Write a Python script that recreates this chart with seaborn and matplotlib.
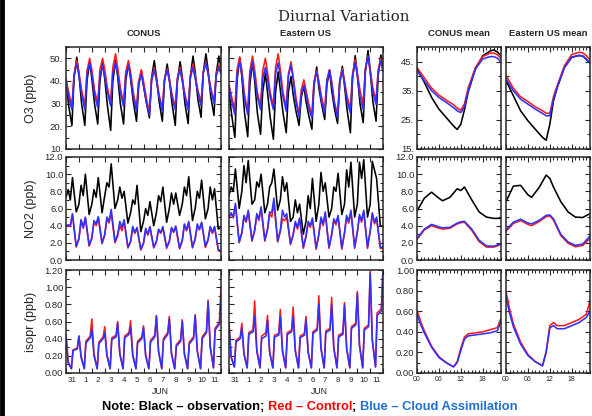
"""Diurnal Variation: O3, NO2 und Isopren - Zeitreihen und mittlerer Tagesgang."""

import matplotlib
matplotlib.use('Agg')
import matplotlib.pyplot as plt
import seaborn as sns
from matplotlib.lines import Line2D
from matplotlib.ticker import (FixedFormatter, FixedLocator, FuncFormatter,
                               MultipleLocator, NullFormatter)

# Tageslabels (31. Mai bis 11. Juni)
DAY_LABELS = ['31', '1', '2', '3', '4', '5', '6', '7', '8', '9', '10', '11']
MEAN_LABELS = ['00', '06', '12', '18']

# Stuetzstunden je Tag (UTC)
HOURS_O3 = [0, 5, 11, 15, 20]
HOURS_NO2 = [0, 4, 8, 12, 19]
HOURS_ISO = [0, 4, 10, 13, 21]

# ---------------- O3 Zeitreihen ----------------
O3_CONUS_OBS = [
    [40, 29, 20.4, 41.5, 50.5], [43, 30, 20.4, 40, 48.5], [41, 30, 21, 40, 48],
    [41, 29, 18.2, 39.8, 49], [42, 30, 21, 40, 48], [41, 31, 22.2, 37.8, 44.5],
    [38, 31, 23.7, 41.4, 49], [42, 31, 22.2, 40, 47.5], [41, 30, 20.4, 40, 48.5],
    [42, 30, 21.2, 42, 51], [44, 32, 24, 43.6, 52], [45, 33, 24.8, 43, 51]]
O3_CONUS_CTL = [
    [41, 35, 29, 43, 49], [44, 36, 29, 44.5, 50], [45, 36, 30, 45, 50],
    [45, 37, 30.5, 46, 52], [46, 37, 30, 44, 49], [44, 35, 28, 40, 45],
    [40, 33, 26, 41, 46], [41, 34, 28, 41, 45.5], [41, 34, 28.5, 41.5, 46],
    [41, 34, 28.5, 42, 47.5], [42.5, 36, 30.5, 44, 48.5], [43.5, 37, 31, 43, 47]]
O3_CONUS_CDA = [
    [40, 33, 27.4, 42.5, 47.5], [42.5, 34, 27.4, 42.9, 48], [43, 34, 28.3, 42.3, 47],
    [42, 35, 29, 43.3, 48], [43, 35, 28.7, 42.4, 47], [42, 33, 26.8, 39, 43],
    [38, 31, 25, 40, 45], [40, 33, 26.5, 40.4, 45], [40, 33, 27.2, 40.6, 45],
    [40, 33, 27.2, 41.3, 46], [41, 35, 29, 43.3, 48], [43, 36, 30, 42, 46]]
O3_CONUS_END = [46, 44, 43]

O3_EAST_OBS = [
    [36, 25, 15.1, 40, 50.5], [42, 26, 15.4, 38.5, 48.5], [40, 26, 16.5, 35, 43.5],
    [35, 24, 14.3, 35, 44], [36, 26, 17.2, 35, 42], [34, 27, 20.4, 32.5, 38],
    [31, 25, 18.7, 38, 46.2], [37, 30, 23, 38, 44.8], [36, 28, 21.3, 39, 46.5],
    [38, 27, 17.2, 41, 51.2], [43, 30, 21.6, 44, 53.5], [45, 31, 22.3, 42.5, 51.5]]
O3_EAST_CTL = [
    [38.5, 33, 27, 45, 50.5], [45, 34, 26.5, 44.5, 51], [45, 35, 29, 44.5, 50],
    [44, 35, 29, 46, 52], [45, 35, 28.5, 43, 48.5], [42, 33, 25, 36, 40.5],
    [36, 30, 25, 40, 44.5], [40, 33, 27, 40.5, 45], [40, 31, 25, 40.5, 45.5],
    [40, 33, 28, 43, 49.5], [43.5, 36, 30, 45.5, 51], [45, 37, 31.5, 45, 50]]
O3_EAST_CDA = [
    [37.5, 31, 25.2, 43, 48.5], [43, 32, 25.2, 42.5, 48.5], [42, 33, 27.4, 41, 46],
    [41, 33, 27.4, 43, 48], [42, 33, 26.7, 42, 47], [41, 31, 24.1, 34, 38],
    [34, 28, 23.8, 39, 44], [39, 31, 25.5, 40, 44.8], [39, 30, 23.8, 39, 44.8],
    [39, 31, 25.9, 42, 48.2], [42, 33, 27.4, 45, 51], [44, 35, 29.6, 44, 49]]
O3_EAST_END = [46, 45, 44]

# ---------------- NO2 Zeitreihen ----------------
NO2_CONUS_OBS = [
    [7.3, 8.2, 7.0, 9.6, 5.6], [6.5, 8.7, 7.5, 10.0, 5.3], [6.5, 8.2, 7.3, 9.6, 5.5],
    [7.5, 9.0, 8.5, 11.2, 6.0], [7.0, 8.5, 7.2, 8.0, 4.3], [5.5, 7.0, 6.5, 8.7, 3.3],
    [4.5, 6.0, 5.2, 6.8, 4.0], [5.5, 7.5, 6.8, 8.5, 4.4], [6.0, 7.8, 6.5, 7.8, 5.2],
    [6.5, 8.5, 7.5, 9.7, 4.6], [6.0, 8.0, 7.2, 9.3, 4.8], [6.0, 8.5, 7.0, 8.3, 3.6]]
NO2_CONUS_CTL = [
    [4.0, 4.0, 3.9, 5.3, 1.5], [2.4, 4.6, 3.7, 4.9, 1.6], [2.5, 4.5, 4.0, 4.9, 1.9],
    [2.9, 4.8, 4.3, 5.5, 2.0], [2.8, 4.0, 3.4, 4.5, 1.4], [2.1, 3.7, 3.1, 3.7, 1.15],
    [1.9, 3.5, 2.9, 3.8, 1.4], [2.1, 3.5, 3.1, 3.7, 1.35], [2.1, 3.7, 3.2, 3.8, 1.3],
    [2.2, 4.1, 3.4, 4.3, 1.4], [2.4, 4.0, 3.5, 4.3, 1.45], [2.3, 3.8, 3.1, 3.8, 1.1]]
NO2_CONUS_CDA = [
    [4.0, 4.1, 4.0, 5.4, 1.6], [2.5, 4.7, 3.8, 5.0, 1.75], [2.6, 4.6, 4.2, 5.05, 2.0],
    [3.0, 5.0, 4.5, 5.9, 2.15], [3.0, 4.5, 3.8, 4.7, 1.5], [2.2, 3.9, 3.2, 3.8, 1.25],
    [2.0, 3.7, 3.0, 3.9, 1.5], [2.2, 3.6, 3.2, 3.9, 1.5], [2.2, 3.8, 3.3, 3.97, 1.4],
    [2.3, 4.2, 3.5, 4.5, 1.5], [2.5, 4.2, 3.6, 4.4, 1.6], [2.4, 3.9, 3.2, 3.9, 1.2]]
NO2_CONUS_END = [3.8, 1.0, 1.1]

NO2_EAST_OBS = [
    [7.5, 8.5, 8.0, 10.6, 6.0], [8.0, 11.0, 9.0, 11.6, 6.5], [7.0, 9.1, 8.5, 10.0, 5.5],
    [6.5, 8.5, 9.0, 10.6, 5.8], [7.0, 9.7, 8.0, 9.0, 4.5], [5.0, 7.0, 5.5, 6.5, 3.0],
    [4.5, 7.5, 6.0, 9.5, 4.5], [6.5, 10.2, 8.0, 9.0, 5.0], [6.0, 8.5, 8.0, 10.1, 5.3],
    [6.5, 10.5, 8.5, 11.4, 5.0], [6.5, 11.4, 9.5, 11.7, 5.0], [6.5, 11.5, 10.5, 9.5, 4.0]]
NO2_EAST_CTL = [
    [4.9, 5.4, 4.9, 6.4, 2.0], [3.1, 5.0, 4.4, 5.6, 2.2], [3.4, 5.2, 4.6, 6.0, 2.2],
    [3.5, 5.4, 5.0, 6.6, 2.1], [3.3, 4.8, 4.6, 5.0, 1.8], [2.9, 4.3, 3.6, 4.7, 1.35],
    [2.7, 4.3, 3.8, 4.7, 1.25], [2.9, 4.8, 4.0, 5.4, 1.35], [2.9, 4.6, 4.1, 5.0, 1.25],
    [3.1, 5.0, 4.3, 5.6, 1.35], [3.2, 5.1, 4.4, 5.6, 1.35], [3.3, 5.3, 4.2, 4.8, 1.35]]
NO2_EAST_CDA = [
    [5.0, 5.5, 5.0, 6.6, 2.1], [3.2, 5.2, 4.5, 5.8, 2.3], [3.5, 5.4, 4.8, 6.2, 2.3],
    [3.6, 5.6, 5.5, 7.2, 2.2], [3.5, 5.8, 5.0, 5.4, 1.9], [3.0, 4.5, 3.8, 4.9, 1.5],
    [2.8, 4.5, 4.0, 4.9, 1.4], [3.0, 5.0, 4.2, 5.6, 1.5], [3.0, 4.8, 4.3, 5.2, 1.4],
    [3.2, 5.2, 4.5, 5.8, 1.5], [3.3, 5.3, 4.6, 5.8, 1.5], [3.4, 5.5, 4.4, 5.0, 1.5]]
NO2_EAST_END = [3.9, 1.4, 1.5]

# ---------------- Isopren Zeitreihen (keine Beobachtung) ----------------
ISO_CONUS_CTL = [
    [0.45, 0.13, 0.05, 0.27, 0.29], [0.43, 0.20, 0.05, 0.37, 0.43],
    [0.63, 0.23, 0.05, 0.36, 0.42], [0.54, 0.22, 0.05, 0.41, 0.44],
    [0.60, 0.23, 0.05, 0.43, 0.47], [0.61, 0.22, 0.05, 0.37, 0.42],
    [0.55, 0.21, 0.05, 0.38, 0.44], [0.67, 0.25, 0.05, 0.40, 0.47],
    [0.66, 0.23, 0.05, 0.33, 0.39], [0.62, 0.23, 0.05, 0.36, 0.42],
    [0.68, 0.26, 0.05, 0.42, 0.49], [0.85, 0.31, 0.06, 0.52, 0.59]]
ISO_CONUS_CDA = [
    [0.43, 0.12, 0.05, 0.26, 0.28], [0.43, 0.18, 0.05, 0.35, 0.41],
    [0.51, 0.20, 0.05, 0.34, 0.40], [0.47, 0.20, 0.05, 0.39, 0.42],
    [0.58, 0.22, 0.05, 0.41, 0.45], [0.53, 0.20, 0.05, 0.35, 0.40],
    [0.53, 0.20, 0.05, 0.36, 0.42], [0.66, 0.25, 0.05, 0.38, 0.45],
    [0.63, 0.22, 0.05, 0.31, 0.37], [0.60, 0.22, 0.05, 0.34, 0.40],
    [0.67, 0.25, 0.05, 0.40, 0.47], [0.83, 0.30, 0.06, 0.50, 0.57]]
ISO_CONUS_END = [1.01, 0.86]

ISO_EAST_CTL = [
    [0.59, 0.19, 0.07, 0.38, 0.42], [0.58, 0.23, 0.06, 0.47, 0.50],
    [0.84, 0.28, 0.06, 0.43, 0.47], [0.67, 0.25, 0.06, 0.44, 0.46],
    [0.74, 0.27, 0.06, 0.47, 0.50], [0.77, 0.27, 0.06, 0.43, 0.46],
    [0.66, 0.25, 0.06, 0.48, 0.52], [0.90, 0.30, 0.06, 0.49, 0.52],
    [0.88, 0.30, 0.06, 0.44, 0.47], [0.82, 0.29, 0.06, 0.54, 0.58],
    [0.95, 0.33, 0.06, 0.52, 0.56], [1.18, 0.39, 0.07, 0.70, 0.75]]
ISO_EAST_CDA = [
    [0.57, 0.18, 0.07, 0.36, 0.40], [0.53, 0.22, 0.06, 0.45, 0.48],
    [0.66, 0.25, 0.06, 0.40, 0.43], [0.61, 0.24, 0.06, 0.42, 0.44],
    [0.66, 0.25, 0.06, 0.45, 0.48], [0.66, 0.25, 0.06, 0.41, 0.44],
    [0.62, 0.24, 0.06, 0.46, 0.50], [0.80, 0.28, 0.06, 0.47, 0.50],
    [0.80, 0.28, 0.06, 0.42, 0.45], [0.79, 0.28, 0.06, 0.52, 0.56],
    [0.93, 0.32, 0.06, 0.50, 0.54], [1.16, 0.38, 0.07, 0.67, 0.72]]
ISO_EAST_END = [1.22, 1.20]

# ---------------- Mittlerer Tagesgang ----------------
MEAN_HOURS_O3 = [0, 2, 4, 6, 8, 10, 11, 12, 13, 14, 16, 18, 20, 21, 22, 23]
O3M_CONUS_OBS = [42.5, 37.9, 32.7, 28.7, 25.8, 22.9, 21.7, 23.5, 28.5, 34.5, 42.5, 47.0, 48.6, 49.0, 48.3, 47.0]
O3M_CONUS_CTL = [43.0, 39.4, 35.9, 33.5, 31.8, 30.2, 29.0, 28.3, 30.5, 35.9, 43.0, 46.7, 47.9, 47.9, 47.4, 46.0]
O3M_CONUS_CDA = [41.9, 38.4, 35.0, 32.7, 31.0, 29.2, 28.1, 27.5, 29.5, 35.0, 42.5, 45.9, 46.7, 46.7, 46.2, 44.8]
O3M_EAST_OBS = [38.5, 33.3, 28.1, 24.7, 21.8, 19.0, 18.0, 23.5, 31.5, 36.0, 43.0, 46.5, 47.1, 46.9, 45.8, 44.5]
O3M_EAST_CTL = [40.2, 35.9, 32.9, 31.3, 29.5, 28.1, 27.3, 27.2, 33.0, 36.7, 43.6, 47.4, 48.2, 48.0, 47.0, 45.6]
O3M_EAST_CDA = [39.0, 35.0, 32.1, 30.4, 28.7, 27.2, 26.4, 26.4, 32.0, 36.1, 43.0, 46.5, 47.1, 46.9, 45.7, 44.4]

MEAN_HOURS_NO2 = [0, 2, 4, 6, 7, 9, 11, 12, 13, 15, 17, 19, 21, 23]
NO2M_CONUS_OBS = [5.7, 7.2, 7.9, 7.2, 6.9, 7.3, 8.3, 8.1, 8.5, 7.0, 5.6, 5.0, 4.85, 4.85]
NO2M_CONUS_CTL = [2.4, 3.5, 4.0, 3.7, 3.6, 3.7, 4.2, 4.35, 4.4, 3.45, 2.15, 1.5, 1.5, 1.8]
NO2M_CONUS_CDA = [2.5, 3.6, 4.15, 3.85, 3.75, 3.8, 4.3, 4.45, 4.5, 3.6, 2.3, 1.65, 1.6, 1.9]
NO2M_EAST_OBS = [6.8, 8.6, 8.7, 7.6, 7.3, 8.4, 9.9, 9.5, 8.5, 6.8, 5.6, 5.0, 4.95, 5.4]
NO2M_EAST_CTL = [3.35, 4.25, 4.6, 4.15, 4.0, 4.45, 5.05, 5.15, 4.65, 2.85, 1.95, 1.55, 1.7, 2.5]
NO2M_EAST_CDA = [3.5, 4.4, 4.75, 4.3, 4.2, 4.6, 5.2, 5.25, 4.8, 3.0, 2.1, 1.7, 1.85, 2.8]

MEAN_HOURS_ISO = [0, 1, 2, 4, 6, 8, 10, 11, 12, 13, 14, 16, 18, 20, 22, 23]
ISOM_CONUS_CTL = [0.61, 0.50, 0.41, 0.26, 0.16, 0.10, 0.06, 0.11, 0.24, 0.35, 0.38, 0.39, 0.40, 0.42, 0.44, 0.53]
ISOM_CONUS_CDA = [0.57, 0.47, 0.39, 0.25, 0.15, 0.10, 0.06, 0.10, 0.22, 0.33, 0.36, 0.37, 0.38, 0.39, 0.41, 0.50]
ISOM_EAST_CTL = [0.79, 0.62, 0.48, 0.30, 0.18, 0.11, 0.07, 0.21, 0.46, 0.49, 0.46, 0.46, 0.49, 0.52, 0.57, 0.70]
ISOM_EAST_CDA = [0.74, 0.58, 0.45, 0.28, 0.17, 0.11, 0.07, 0.20, 0.44, 0.46, 0.43, 0.43, 0.46, 0.49, 0.54, 0.60]

C_OBS = 'black'
C_CTL = '#ff1a1a'
C_CDA = '#3030ff'
LW = 1.15


def build_series(days, hours, end):
    """Setzt Tageswerte zu einer durchgehenden Zeitachse (Tage) zusammen."""
    x = [d + h / 24 for d in range(len(days)) for h in hours]
    y = [v for row in days for v in row]
    return x + [len(days)], y + [end]


def draw(ax, x, y, color):
    sns.lineplot(x=x, y=y, color=color, lw=LW, ax=ax, estimator=None, legend=False)


def style_common(ax, major_y, minor_y, fmt, show_y):
    ax.set_xlabel('')
    ax.set_ylabel('')
    ax.yaxis.set_major_locator(FixedLocator(major_y))
    ax.yaxis.set_minor_locator(MultipleLocator(minor_y))
    ax.yaxis.set_major_formatter(FuncFormatter(fmt) if show_y else NullFormatter())
    ax.tick_params(axis='both', which='both', direction='in', top=True, right=True,
                   width=0.8, labelsize=6.8, pad=2)
    ax.tick_params(axis='both', which='major', length=3.5)
    ax.tick_params(axis='y', which='minor', length=2)
    for s in ax.spines.values():
        s.set_linewidth(1.1)


def style_ts(ax, ylim, major_y, minor_y, fmt, show_y, show_x):
    ax.set_xlim(0, 12)
    ax.set_ylim(*ylim)
    style_common(ax, major_y, minor_y, fmt, show_y)
    ax.xaxis.set_major_locator(MultipleLocator(1))
    ax.xaxis.set_major_formatter(NullFormatter())
    ax.xaxis.set_minor_locator(FixedLocator([d + 0.5 for d in range(12)]))
    ax.xaxis.set_minor_formatter(FixedFormatter(DAY_LABELS) if show_x else NullFormatter())
    ax.tick_params(axis='x', which='minor', length=0, labelsize=5.8, pad=3)


def style_mean(ax, ylim, major_y, minor_y, fmt, show_y, show_x):
    ax.set_xlim(0, 23)
    ax.set_ylim(*ylim)
    style_common(ax, major_y, minor_y, fmt, show_y)
    ax.xaxis.set_major_locator(FixedLocator([0, 6, 12, 18]))
    ax.xaxis.set_minor_locator(MultipleLocator(1))
    ax.xaxis.set_major_formatter(FixedFormatter(MEAN_LABELS) if show_x else NullFormatter())
    ax.tick_params(axis='x', which='minor', length=2)
    ax.tick_params(axis='x', which='major', labelsize=5, pad=2)


def main():
    sns.set_style('ticks')
    plt.rcParams['font.family'] = ['Liberation Sans', 'DejaVu Sans']

    fig = plt.figure(figsize=(5.92, 4.16), dpi=100)

    cols = [(66, 155), (229, 154), (417, 84), (506, 84)]
    rows = [(47, 102), (157, 103), (270, 103)]
    W, H = 592.0, 416.0
    axes = [[fig.add_axes([l / W, 1 - (t + h) / H, w / W, h / H]) for (l, w) in cols]
            for (t, h) in rows]

    fmt_o3 = lambda v, p: f'{v:.0f}.'
    fmt_no2 = lambda v, p: f'{v:.1f}'
    fmt_iso = lambda v, p: f'{v:.2f}'

    # Zeitreihen O3 und NO2 (Beobachtung, Kontrolle, Wolkenassimilation)
    ts_o3 = [(O3_CONUS_OBS, O3_CONUS_CTL, O3_CONUS_CDA, O3_CONUS_END),
             (O3_EAST_OBS, O3_EAST_CTL, O3_EAST_CDA, O3_EAST_END)]
    ts_no2 = [(NO2_CONUS_OBS, NO2_CONUS_CTL, NO2_CONUS_CDA, NO2_CONUS_END),
              (NO2_EAST_OBS, NO2_EAST_CTL, NO2_EAST_CDA, NO2_EAST_END)]
    for row, data, hours in [(0, ts_o3, HOURS_O3), (1, ts_no2, HOURS_NO2)]:
        for c, (obs, ctl, cda, end) in enumerate(data):
            ax = axes[row][c]
            for series, e, col in [(obs, end[0], C_OBS), (ctl, end[1], C_CTL), (cda, end[2], C_CDA)]:
                x, y = build_series(series, hours, e)
                draw(ax, x, y, col)

    ts_iso = [(ISO_CONUS_CTL, ISO_CONUS_CDA, ISO_CONUS_END),
              (ISO_EAST_CTL, ISO_EAST_CDA, ISO_EAST_END)]
    for c, (ctl, cda, end) in enumerate(ts_iso):
        ax = axes[2][c]
        for series, e, col in [(ctl, end[0], C_CTL), (cda, end[1], C_CDA)]:
            x, y = build_series(series, HOURS_ISO, e)
            draw(ax, x, y, col)

    # Mittlere Tagesgaenge
    means = [
        (0, MEAN_HOURS_O3, [(O3M_CONUS_OBS, O3M_CONUS_CTL, O3M_CONUS_CDA),
                            (O3M_EAST_OBS, O3M_EAST_CTL, O3M_EAST_CDA)]),
        (1, MEAN_HOURS_NO2, [(NO2M_CONUS_OBS, NO2M_CONUS_CTL, NO2M_CONUS_CDA),
                             (NO2M_EAST_OBS, NO2M_EAST_CTL, NO2M_EAST_CDA)]),
        (2, MEAN_HOURS_ISO, [(None, ISOM_CONUS_CTL, ISOM_CONUS_CDA),
                             (None, ISOM_EAST_CTL, ISOM_EAST_CDA)]),
    ]
    for row, hours, data in means:
        for c, trio in enumerate(data):
            ax = axes[row][2 + c]
            for vals, col in zip(trio, [C_OBS, C_CTL, C_CDA]):
                if vals is not None:
                    draw(ax, hours, vals, col)

    for c in range(2):
        first = c == 0
        style_ts(axes[0][c], (10, 55), [10, 20, 30, 40, 50], 5, fmt_o3, first, False)
        style_ts(axes[1][c], (0, 12), [0, 2, 4, 6, 8, 10, 12], 1, fmt_no2, first, False)
        style_ts(axes[2][c], (0, 1.2), [0, 0.2, 0.4, 0.6, 0.8, 1.0, 1.2], 0.1, fmt_iso, first, True)
        style_mean(axes[0][2 + c], (15, 50), [15, 25, 35, 45], 5, fmt_o3, first, False)
        style_mean(axes[1][2 + c], (0, 12), [0, 2, 4, 6, 8, 10, 12], 1, fmt_no2, first, False)
        style_mean(axes[2][2 + c], (0, 1.0), [0, 0.2, 0.4, 0.6, 0.8, 1.0], 0.1, fmt_iso, first, True)

    # Texte
    fig.text(344 / W, 1 - 17 / H, 'Diurnal Variation', ha='center', va='center',
             family='DejaVu Serif', fontsize=10.8)
    for (l, w), name in zip(cols, ['CONUS', 'Eastern US', 'CONUS mean', 'Eastern US mean']):
        fig.text((l + w / 2) / W, 1 - 33 / H, name, ha='center', va='center',
                 fontsize=6.8, fontweight='bold')
    for (t, h), name in zip(rows, ['O3 (ppb)', 'NO2 (ppb)', 'isopr (ppb)']):
        fig.text(31 / W, 1 - (t + h / 2) / H, name, ha='center', va='center',
                 rotation=90, fontsize=9)
    for x in [160, 319]:
        fig.text(x / W, 1 - 391 / H, 'JUN', ha='center', va='center', fontsize=6.3)

    # Farbige Fussnote
    parts = [('Note: Black \u2013 observation; ', 'black'), ('Red \u2013 Control', '#ff0000'),
             ('; ', 'black'), ('Blue \u2013 Cloud Assimilation', '#1f6fd6')]
    renderer = fig.canvas.get_renderer()
    texts, xpos = [], 0.0
    for s, col in parts:
        t = fig.text(xpos, 1 - 407 / H, s, color=col, ha='left', va='center',
                     fontsize=9.3, fontweight='bold')
        bb = t.get_window_extent(renderer)
        texts.append(t)
        xpos = bb.x1 / fig.bbox.width
    shift = 310 / W - xpos / 2
    for t in texts:
        x0, y0 = t.get_position()
        t.set_position((x0 + shift, y0))

    fig.add_artist(Line2D([0.003, 0.003], [0, 1], color='black', lw=3.5,
                          transform=fig.transFigure))

    fig.savefig('out.png', dpi=100)
    plt.close(fig)


if __name__ == '__main__':
    main()
